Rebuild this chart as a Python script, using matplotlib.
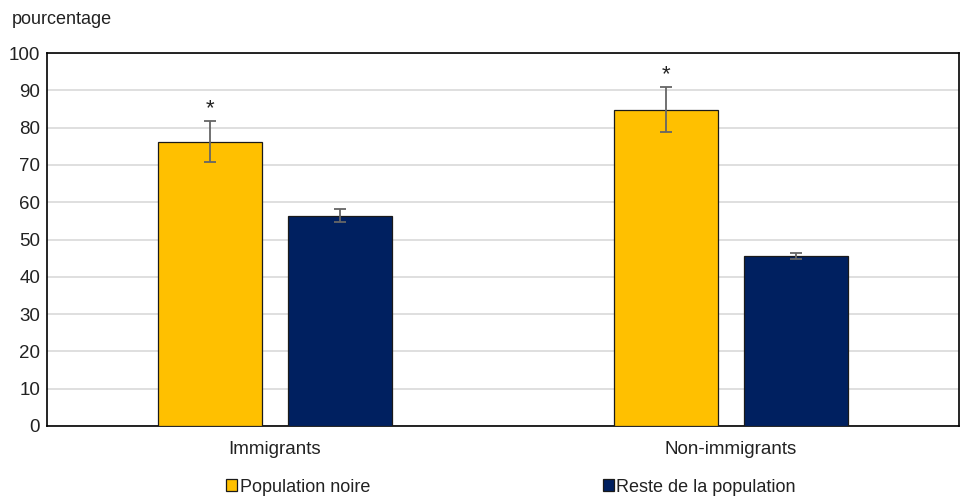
import numpy as np
import matplotlib
matplotlib.use('Agg')
import matplotlib.pyplot as plt
from matplotlib.patches import Patch

plt.rcParams['font.family'] = ['Liberation Sans', 'DejaVu Sans']

# donnees
categories = ['Immigrants', 'Non-immigrants']
series = ['Population noire', 'Reste de la population']
noire = [76.2, 84.8]
noire_bas = [70.8, 78.9]
noire_haut = [81.7, 90.8]
reste = [56.3, 45.5]
reste_bas = [54.6, 44.8]
reste_haut = [58.2, 46.4]
signif = ['*', '*']

jaune = '#FFC000'
marine = '#002060'

fig = plt.figure(figsize=[9.61, 5.0], dpi=100)
fig.subplots_adjust(left=47/961, right=959/961, top=1-53/500, bottom=1-426/500)
ax = fig.add_subplot(111)

x = np.arange(len(categories))
w = 0.226
off = 0.1425

err_n = [np.array(noire) - np.array(noire_bas), np.array(noire_haut) - np.array(noire)]
err_r = [np.array(reste) - np.array(reste_bas), np.array(reste_haut) - np.array(reste)]

ax.bar(x - off, noire, w, color=jaune, edgecolor='#1a1a1a', linewidth=0.9, zorder=3,
       yerr=err_n, error_kw=dict(ecolor='#666666', elinewidth=1.3, capsize=4, capthick=1.3, zorder=4))
ax.bar(x + off, reste, w, color=marine, edgecolor='#1a1a1a', linewidth=0.9, zorder=3,
       yerr=err_r, error_kw=dict(ecolor='#666666', elinewidth=1.3, capsize=4, capthick=1.3, zorder=4))

for i in range(len(categories)):
    ax.text(x[i] - off, noire_haut[i] + 1.8, signif[i], ha='center', va='baseline',
            fontsize=16, color='#222222')

ax.set_xlim(-0.5, 1.5)
ax.set_ylim(0, 100)
ax.set_yticks(np.arange(0, 101, 10))
ax.set_xticks(x)
ax.set_xticklabels(categories)
ax.tick_params(axis='both', length=0, labelsize=13.5, colors='#222222')
ax.tick_params(axis='y', pad=5)
ax.tick_params(axis='x', pad=11)
ax.grid(axis='y', color='#d9d9d9', linewidth=1.2, zorder=0)
for s in ax.spines.values():
    s.set_color('black')
    s.set_linewidth(1.2)

fig.text(12/961, 1-20/500, 'pourcentage', fontsize=13, color='#222222', va='center', ha='left')

handles = [Patch(facecolor=jaune, edgecolor='#1a1a1a', linewidth=0.9),
           Patch(facecolor=marine, edgecolor='#1a1a1a', linewidth=0.9)]
fig.legend(handles, series, loc='center', bbox_to_anchor=(511/961, 1-487/500), ncol=2,
           frameon=False, fontsize=13, handlelength=0.6, handleheight=0.6,
           handletextpad=0.15, columnspacing=12.9, labelcolor='#222222')

fig.savefig('out.png', dpi=100)
